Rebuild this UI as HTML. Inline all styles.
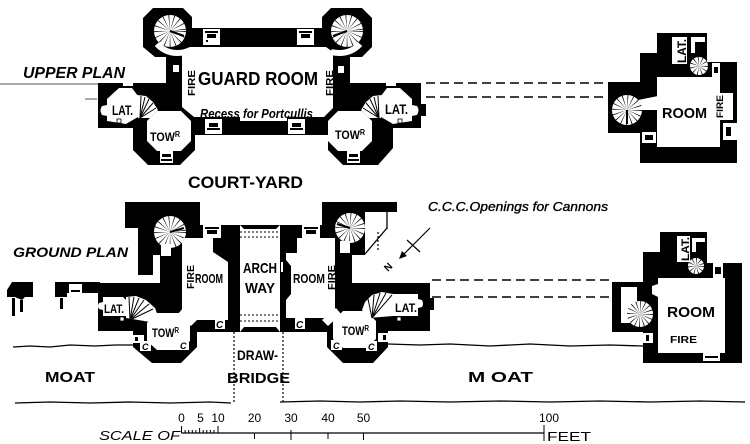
<!DOCTYPE html>
<html><head><meta charset="utf-8"><style>
html,body{margin:0;padding:0;background:#fff;}
svg{display:block;}
text{font-family:"Liberation Sans",sans-serif;fill:#000;}
.b{font-weight:bold;}
.i{font-style:italic;}
</style></head><body>
<svg width="750" height="444" viewBox="0 0 750 444" xmlns="http://www.w3.org/2000/svg">
<rect width="750" height="444" fill="#fff"/>

<!-- ================= UPPER PLAN ================= -->
<line x1="0" y1="84" x2="98" y2="84" stroke="#555" stroke-width="1"/>
<line x1="85" y1="99" x2="97" y2="99" stroke="#555" stroke-width="1"/>
<polygon fill="#000" points="143,18 153,8 183,8 192,17 192,28 322,28 322,17 331,8 362,8 372,18 372,47 362,57 350,57 350,83 421,83 421,128 393,128 393,148 378,165 343,165 328,150 328,135 195,135 195,150 180,165 148,165 133,150 133,128 98,128 98,83 166,83 166,57 155,57 143,47"/>
<!-- guard room -->
<polygon fill="#fff" points="182,50 190,47 326,47 333,52 333,108 324,117 194,117 182,107"/>
<rect x="240" y="116" width="47" height="5" fill="#fff"/>
<rect x="173" y="65" width="6" height="7" fill="#fff"/>
<rect x="338" y="66" width="6" height="7" fill="#fff"/>
<!-- turret stairs -->
<circle cx="170" cy="31" r="16" fill="#fff"/>
<circle cx="170" cy="31" r="8" fill="none" stroke="#000" stroke-width="16" stroke-dasharray="0.45 2.6"/>
<line x1="170" y1="31" x2="184" y2="36" stroke="#000" stroke-width="2"/>
<path d="M157,44 Q168,56 186,52" stroke="#fff" stroke-width="6" fill="none"/>
<circle cx="347" cy="31" r="16" fill="#fff"/>
<circle cx="347" cy="31" r="8" fill="none" stroke="#000" stroke-width="16" stroke-dasharray="0.45 2.6"/>
<line x1="347" y1="31" x2="333" y2="36" stroke="#000" stroke-width="2"/>
<path d="M360,44 Q349,56 331,52" stroke="#fff" stroke-width="6" fill="none"/>
<!-- top windows -->
<rect x="203" y="29" width="17" height="16" fill="#fff"/><rect x="205" y="31" width="13" height="2" fill="#000"/><rect x="207" y="34" width="9" height="4" fill="#000"/><rect x="206" y="40" width="2" height="2" fill="#000"/>
<rect x="297" y="29" width="17" height="16" fill="#fff"/><rect x="299" y="31" width="13" height="2" fill="#000"/><rect x="301" y="34" width="9" height="4" fill="#000"/>
<!-- bottom windows -->
<rect x="205" y="119" width="17" height="15" fill="#fff"/><rect x="207" y="128" width="13" height="2" fill="#000"/><rect x="209" y="123" width="9" height="4" fill="#000"/>
<rect x="288" y="119" width="17" height="15" fill="#fff"/><rect x="290" y="128" width="13" height="2" fill="#000"/><rect x="292" y="123" width="9" height="4" fill="#000"/>
<!-- left wing -->
<polygon fill="#fff" points="107,99 119,88 132,88 138,96 138,117 126,124 107,121"/>
<path d="M107,105 L102,106 Q99,110 102,115 L107,116 Z" fill="#fff"/>
<rect x="117" y="119" width="4" height="4" fill="#fff" stroke="#000" stroke-width="0.8"/>
<rect x="123" y="83" width="10" height="3" fill="#fff"/>
<polygon fill="#fff" points="137,95 146,96 153,102 158,110 150,118 138,118"/>
<g stroke="#000" stroke-width="1"><line x1="140" y1="118" x2="141" y2="96"/><line x1="140" y1="118" x2="145" y2="97"/><line x1="140" y1="118" x2="149" y2="99"/><line x1="140" y1="118" x2="153" y2="103"/><line x1="140" y1="118" x2="156" y2="108"/></g>
<polygon fill="#fff" points="157,111 181,111 191,121 191,141 181,151 157,151 147,141 147,121"/>
<rect x="160" y="151" width="13" height="12" fill="#fff"/><rect x="162" y="154" width="9" height="3" fill="#000"/><rect x="161" y="159" width="11" height="2" fill="#000"/>
<!-- right wing -->
<polygon fill="#fff" points="412,99 400,88 387,88 381,96 381,117 393,124 412,121"/>
<path d="M412,105 L417,106 Q420,110 417,115 L412,116 Z" fill="#fff"/>
<rect x="398" y="119" width="4" height="4" fill="#fff" stroke="#000" stroke-width="0.8"/>
<rect x="386" y="83" width="10" height="3" fill="#fff"/>
<polygon fill="#fff" points="382,95 373,96 366,102 361,110 369,118 381,118"/>
<g stroke="#000" stroke-width="1"><line x1="379" y1="118" x2="378" y2="96"/><line x1="379" y1="118" x2="374" y2="97"/><line x1="379" y1="118" x2="370" y2="99"/><line x1="379" y1="118" x2="366" y2="103"/><line x1="379" y1="118" x2="363" y2="108"/></g>
<polygon fill="#fff" points="338,111 362,111 372,121 372,141 362,151 338,151 328,141 328,121"/>
<rect x="347" y="151" width="13" height="12" fill="#fff"/><rect x="349" y="154" width="9" height="3" fill="#000"/><rect x="348" y="159" width="11" height="2" fill="#000"/>
<rect x="421" y="104" width="5" height="12" fill="#000"/>
<!-- dashed links upper -->
<g stroke="#000" stroke-width="1.6" stroke-dasharray="9 5"><line x1="426" y1="83" x2="608" y2="83"/><line x1="426" y1="97" x2="608" y2="97"/></g>

<!-- upper right building -->
<polygon fill="#000" points="657,33 707,33 707,62 737,62 737,163 640,163 640,133 608,133 608,82 640,82 640,53 657,53"/>
<polygon fill="#fff" points="657,77 720,77 720,93 733,93 733,120 720,120 720,147 657,147"/>
<polygon fill="#fff" points="638,100 658,96 658,110 640,110"/>
<circle cx="627" cy="110" r="15" fill="#fff"/>
<circle cx="627" cy="110" r="7.5" fill="none" stroke="#000" stroke-width="15" stroke-dasharray="0.45 2.5"/>
<line x1="627" y1="110" x2="627" y2="124" stroke="#000" stroke-width="2"/>
<rect x="672" y="37" width="15" height="27" fill="#fff"/>
<rect x="691" y="37" width="14" height="5" fill="#fff"/><rect x="691" y="37" width="4" height="16" fill="#fff"/>
<circle cx="699" cy="66" r="9" fill="#fff"/>
<circle cx="699" cy="66" r="4.5" fill="none" stroke="#000" stroke-width="9" stroke-dasharray="0.45 2.1"/>
<rect x="642" y="132" width="14" height="11" fill="#fff"/><rect x="645" y="135" width="8" height="5" fill="#000"/>
<rect x="723" y="123" width="14" height="17" fill="#fff"/><rect x="726" y="127" width="5" height="9" fill="#000"/>
<rect x="712" y="63" width="8" height="14" fill="#fff"/><rect x="714" y="67" width="4" height="6" fill="#000"/>

<!-- ================= GROUND PLAN ================= -->
<!-- far left ruins -->
<polygon fill="#000" points="7,290 12,282 33,282 33,297 25,297 22,300 15,297 7,297"/>
<rect x="12" y="298" width="3" height="18" fill="#000"/><rect x="20" y="300" width="3" height="12" fill="#000"/>
<rect x="55" y="282" width="12" height="15" fill="#000"/><rect x="60" y="298" width="3" height="11" fill="#000"/>
<rect x="67" y="282" width="33" height="11" fill="#000"/>
<rect x="69" y="284" width="13" height="11" fill="#fff"/><rect x="71" y="290" width="9" height="2" fill="#000"/>

<!-- left half -->
<rect x="125" y="202" width="75" height="26" fill="#000"/>
<rect x="138" y="202" width="15" height="73" fill="#000"/>
<rect x="153" y="202" width="47" height="53" fill="#000"/>
<rect x="160" y="225" width="80" height="107" fill="#000"/>
<rect x="98" y="283" width="102" height="48" fill="#000"/>
<polygon fill="#000" points="133,330 197,330 197,347 181,363 152,363 133,347"/>
<circle cx="170" cy="232" r="16" fill="#fff"/>
<circle cx="170" cy="232" r="8" fill="none" stroke="#000" stroke-width="16" stroke-dasharray="0.45 2.6"/>
<line x1="170" y1="232" x2="184" y2="228" stroke="#000" stroke-width="2"/>
<rect x="161" y="244" width="10" height="12" fill="#fff"/>
<polygon fill="#fff" points="182,238 213,238 213,252 228,262 228,320 192,320 182,310"/>
<polygon fill="#fff" points="183,308 197,320 191,326 178,314"/>
<polygon fill="#fff" points="157,313 180,313 190,323 190,341 180,350 157,350 147,341 147,323"/>
<polygon fill="#fff" points="103,297 123,297 126,300 126,316 103,316"/>
<path d="M103,302 L99,303 Q97,306 99,309 L103,310 Z" fill="#fff"/>
<rect x="120" y="317" width="4" height="4" fill="#fff" stroke="#000" stroke-width="0.8"/>
<polygon fill="#fff" points="126,297 136,296 146,300 155,308 158,316 150,322 126,318"/>
<g stroke="#000" stroke-width="1"><line x1="130" y1="320" x2="129" y2="297"/><line x1="130" y1="320" x2="134" y2="297"/><line x1="130" y1="320" x2="139" y2="298"/><line x1="130" y1="320" x2="144" y2="300"/><line x1="130" y1="320" x2="149" y2="304"/><line x1="130" y1="320" x2="153" y2="309"/></g>
<rect x="203" y="225" width="18" height="13" fill="#fff"/><rect x="205" y="227" width="14" height="2" fill="#000"/><rect x="207" y="230" width="10" height="4" fill="#000"/>
<rect x="133" y="335" width="11" height="8" fill="#fff"/><rect x="135" y="337" width="3" height="4" fill="#000"/>
<rect x="215" y="318" width="10" height="11" fill="#fff"/>
<rect x="140" y="341" width="11" height="10" fill="#fff"/>
<rect x="178" y="340" width="11" height="10" fill="#fff"/>

<!-- archway -->
<polygon fill="#000" points="240,225 280,225 276,229 244,229"/>
<polygon fill="#000" points="240,332 280,332 276,327 244,327"/>
<g stroke="#000" stroke-width="1" stroke-dasharray="2 2"><line x1="240" y1="232" x2="280" y2="232"/><line x1="240" y1="237" x2="280" y2="237"/><line x1="240" y1="315" x2="280" y2="315"/><line x1="240" y1="321" x2="280" y2="321"/></g>
<g stroke="#000" stroke-width="1.2" stroke-dasharray="2 2"><line x1="234" y1="332" x2="234" y2="403"/><line x1="283" y1="332" x2="283" y2="403"/></g>

<!-- right half -->
<rect x="280" y="225" width="72" height="107" fill="#000"/>
<rect x="322" y="202" width="43" height="53" fill="#000"/>
<rect x="365" y="202" width="32" height="10" fill="#000"/>
<rect x="335" y="250" width="17" height="35" fill="#000"/>
<rect x="335" y="283" width="95" height="48" fill="#000"/>
<polygon fill="#000" points="327,330 388,330 388,347 373,363 343,363 327,347"/>
<line x1="365" y1="254" x2="387" y2="228" stroke="#000" stroke-width="1.3"/>
<line x1="387" y1="212" x2="387" y2="229" stroke="#000" stroke-width="1.3"/>
<line x1="378" y1="232" x2="378" y2="252" stroke="#000" stroke-width="1.2" stroke-dasharray="2 2"/>
<circle cx="350" cy="228" r="15" fill="#fff"/>
<circle cx="350" cy="228" r="7.5" fill="none" stroke="#000" stroke-width="15" stroke-dasharray="0.45 2.5"/>
<line x1="350" y1="228" x2="337" y2="224" stroke="#000" stroke-width="2"/>
<rect x="340" y="241" width="10" height="12" fill="#fff"/>
<polygon fill="#fff" points="297,238 335,238 335,310 327,318 286,318 286,300 291,294 291,266 286,260 286,253 297,253"/>
<polygon fill="#fff" points="336,308 322,320 328,326 341,314"/>
<polygon fill="#fff" points="343,311 366,311 376,321 376,339 366,348 343,348 333,339 333,321"/>
<rect x="393" y="294" width="25" height="22" fill="#fff"/>
<path d="M418,299 L422,300 Q424,304 422,307 L418,308 Z" fill="#fff"/>
<rect x="397" y="317" width="4" height="4" fill="#fff" stroke="#000" stroke-width="0.8"/>
<polygon fill="#fff" points="393,294 382,292 372,295 365,302 362,310 369,318 393,316"/>
<g stroke="#000" stroke-width="1"><line x1="372" y1="318" x2="392" y2="295"/><line x1="372" y1="318" x2="386" y2="293"/><line x1="372" y1="318" x2="380" y2="293"/><line x1="372" y1="318" x2="374" y2="295"/><line x1="372" y1="318" x2="368" y2="299"/></g>
<rect x="302" y="225" width="18" height="13" fill="#fff"/><rect x="304" y="227" width="14" height="2" fill="#000"/><rect x="306" y="230" width="10" height="4" fill="#000"/>
<rect x="281" y="262" width="2" height="10" fill="#fff"/>
<rect x="378" y="333" width="10" height="9" fill="#fff"/><rect x="383" y="335" width="3" height="5" fill="#000"/>
<rect x="295" y="318" width="10" height="11" fill="#fff"/>
<rect x="331" y="340" width="11" height="10" fill="#fff"/>
<rect x="366" y="341" width="11" height="10" fill="#fff"/>
<rect x="430" y="298" width="4" height="12" fill="#000"/>

<!-- dashed links ground -->
<g stroke="#000" stroke-width="1.6" stroke-dasharray="9 5"><line x1="432" y1="280" x2="612" y2="280"/><line x1="432" y1="297" x2="612" y2="297"/></g>

<!-- ground right building -->
<polygon fill="#000" points="660,232 707,232 707,263 742,263 742,363 643,363 643,332 612,332 612,282 643,282 643,252 660,252"/>
<rect x="658" y="278" width="67" height="75" fill="#fff"/>
<polygon fill="#fff" points="652,286 658,284 658,297 652,294"/>
<rect x="621" y="287" width="16" height="36" fill="#fff"/>
<circle cx="640" cy="314" r="13" fill="#fff"/>
<circle cx="640" cy="314" r="6.5" fill="none" stroke="#000" stroke-width="13" stroke-dasharray="0.45 2.1"/>
<rect x="643" y="333" width="10" height="10" fill="#fff"/><rect x="646" y="335" width="3" height="6" fill="#000"/>
<rect x="677" y="236" width="13" height="26" fill="#fff"/>
<rect x="692" y="238" width="13" height="4" fill="#fff"/><rect x="692" y="238" width="4" height="14" fill="#fff"/>
<circle cx="696" cy="266" r="8" fill="#fff"/>
<circle cx="696" cy="266" r="4" fill="none" stroke="#000" stroke-width="8" stroke-dasharray="0.45 1.9"/>
<rect x="713" y="263" width="10" height="15" fill="#fff"/><rect x="715" y="267" width="6" height="7" fill="#000"/>
<rect x="703" y="352" width="17" height="9" fill="#fff"/><rect x="705" y="356" width="13" height="2" fill="#000"/>

<!-- moat lines -->
<g stroke="#000" stroke-width="1.3" fill="none">
<polyline points="13,347 30,346 50,347 70,345 95,346 115,345 133,345"/>
<polyline points="388,344 420,345 450,344 490,346 530,344 570,346 610,345 643,346"/>
<polyline points="15,403 50,402 90,403 130,402 170,403 210,402 231,403"/>
<polyline points="280,402 320,401 360,402 400,401 450,402 500,401 550,402 600,401 650,402 700,401 745,402"/>
</g>

<!-- north arrow -->
<line x1="430" y1="228" x2="402" y2="256" stroke="#000" stroke-width="1.2"/>
<polygon points="399,259 402,251 407,256" fill="#000"/>
<line x1="407" y1="240" x2="420" y2="252" stroke="#000" stroke-width="1.2"/>
<text transform="translate(388,272) rotate(-45)" font-size="10" class="b">N</text>

<!-- ================= TEXT ================= -->
<text x="23" y="78" font-size="16" class="b i" textLength="102" lengthAdjust="spacingAndGlyphs">UPPER PLAN</text>
<text x="198" y="85" font-size="18" class="b" textLength="120" lengthAdjust="spacingAndGlyphs">GUARD ROOM</text>
<text transform="translate(195,96) rotate(-90)" font-size="10" class="b" textLength="26" lengthAdjust="spacingAndGlyphs">FIRE</text>
<text transform="translate(333,96) rotate(-90)" font-size="10" class="b" textLength="26" lengthAdjust="spacingAndGlyphs">FIRE</text>
<text x="200" y="118" font-size="13" class="b i" textLength="113" lengthAdjust="spacingAndGlyphs">Recess for Portcullis</text>
<text x="112" y="115" font-size="14" class="b" textLength="21" lengthAdjust="spacingAndGlyphs">LAT.</text>
<text x="385" y="114" font-size="14" class="b" textLength="23" lengthAdjust="spacingAndGlyphs">LAT.</text>
<text x="150" y="141" font-size="12" class="b" textLength="30" lengthAdjust="spacingAndGlyphs">TOW<tspan font-size="8" dy="-4">R</tspan></text>
<text x="335" y="139" font-size="12" class="b" textLength="30" lengthAdjust="spacingAndGlyphs">TOW<tspan font-size="8" dy="-4">R</tspan></text>
<text x="188" y="188" font-size="17" class="b" textLength="115" lengthAdjust="spacingAndGlyphs">COURT-YARD</text>

<text x="662" y="118" font-size="15" class="b" textLength="45" lengthAdjust="spacingAndGlyphs">ROOM</text>
<text transform="translate(723,118) rotate(-90)" font-size="9" class="b" textLength="23" lengthAdjust="spacingAndGlyphs">FIRE</text>
<text transform="translate(686,63) rotate(-90)" font-size="12" class="b" textLength="24" lengthAdjust="spacingAndGlyphs">LAT.</text>

<text x="13" y="257" font-size="14" class="b i" textLength="115" lengthAdjust="spacingAndGlyphs">GROUND PLAN</text>
<text x="428" y="211" font-size="13" class="i" stroke="#000" stroke-width="0.35" textLength="180" lengthAdjust="spacingAndGlyphs">C.C.C.Openings for Cannons</text>
<text transform="translate(194,289) rotate(-90)" font-size="10" class="b" textLength="24" lengthAdjust="spacingAndGlyphs">FIRE</text>
<text x="195" y="283" font-size="13" class="b" textLength="28" lengthAdjust="spacingAndGlyphs">ROOM</text>
<text x="243" y="273" font-size="15" class="b" textLength="34" lengthAdjust="spacingAndGlyphs">ARCH</text>
<text x="245" y="293" font-size="15" class="b" textLength="30" lengthAdjust="spacingAndGlyphs">WAY</text>
<text x="293" y="283" font-size="13" class="b" textLength="32" lengthAdjust="spacingAndGlyphs">ROOM</text>
<text transform="translate(335,290) rotate(-90)" font-size="10" class="b" textLength="25" lengthAdjust="spacingAndGlyphs">FIRE</text>
<text x="104" y="313" font-size="12" class="b" textLength="20" lengthAdjust="spacingAndGlyphs">LAT.</text>
<text x="395" y="312" font-size="12" class="b" textLength="22" lengthAdjust="spacingAndGlyphs">LAT.</text>
<text x="152" y="337" font-size="12" class="b" textLength="27" lengthAdjust="spacingAndGlyphs">TOW<tspan font-size="8" dy="-4">R</tspan></text>
<text x="342" y="335" font-size="12" class="b" textLength="27" lengthAdjust="spacingAndGlyphs">TOW<tspan font-size="8" dy="-4">R</tspan></text>
<text x="216" y="328" font-size="10" class="b i">C</text>
<text x="296" y="328" font-size="10" class="b i">C</text>
<text x="142" y="350" font-size="9" class="b i">C</text>
<text x="180" y="349" font-size="9" class="b i">C</text>
<text x="333" y="349" font-size="9" class="b i">C</text>
<text x="368" y="350" font-size="9" class="b i">C</text>
<text x="237" y="360" font-size="14" class="b" textLength="41" lengthAdjust="spacingAndGlyphs">DRAW-</text>
<text x="227" y="383" font-size="15" class="b" textLength="63" lengthAdjust="spacingAndGlyphs">BRIDGE</text>
<text x="45" y="382" font-size="15" class="b" textLength="50" lengthAdjust="spacingAndGlyphs">MOAT</text>
<text x="468" y="382" font-size="15" class="b" textLength="65" lengthAdjust="spacingAndGlyphs">M OAT</text>

<text x="667" y="317" font-size="15" class="b" textLength="48" lengthAdjust="spacingAndGlyphs">ROOM</text>
<text x="670" y="343" font-size="10" class="b" textLength="27" lengthAdjust="spacingAndGlyphs">FIRE</text>
<text transform="translate(689,261) rotate(-90)" font-size="11" class="b" textLength="24" lengthAdjust="spacingAndGlyphs">LAT.</text>

<!-- scale -->
<line x1="181.5" y1="433" x2="544" y2="433" stroke="#000" stroke-width="1.3"/>
<g stroke="#000" stroke-width="1">
<line x1="181.5" y1="426" x2="181.5" y2="433"/>
<line x1="185.1" y1="430" x2="185.1" y2="433"/><line x1="188.7" y1="430" x2="188.7" y2="433"/><line x1="192.3" y1="430" x2="192.3" y2="433"/><line x1="195.9" y1="430" x2="195.9" y2="433"/>
<line x1="199.6" y1="428" x2="199.6" y2="433"/>
<line x1="203.2" y1="430" x2="203.2" y2="433"/><line x1="206.8" y1="430" x2="206.8" y2="433"/><line x1="210.4" y1="430" x2="210.4" y2="433"/><line x1="214" y1="430" x2="214" y2="433"/>
<line x1="218" y1="426" x2="218" y2="433"/>
<line x1="254.5" y1="433" x2="254.5" y2="439"/>
<line x1="291" y1="430" x2="291" y2="440"/>
<line x1="328" y1="433" x2="328" y2="439"/>
<line x1="363.5" y1="433" x2="363.5" y2="440"/>
<line x1="544" y1="425" x2="544" y2="441"/>
</g>
<g font-size="12" text-anchor="middle">
<text x="181.5" y="422">0</text>
<text x="200.5" y="422">5</text>
<text x="218" y="422">10</text>
<text x="254.5" y="422">20</text>
<text x="291" y="422">30</text>
<text x="328" y="422">40</text>
<text x="363.5" y="422">50</text>
<text x="549" y="422">100</text>
</g>
<text x="99" y="440" font-size="13" class="i" textLength="81" lengthAdjust="spacingAndGlyphs">SCALE OF</text>
<text x="547" y="441" font-size="13" textLength="44" lengthAdjust="spacingAndGlyphs">FEET</text>
</svg>
</body></html>
